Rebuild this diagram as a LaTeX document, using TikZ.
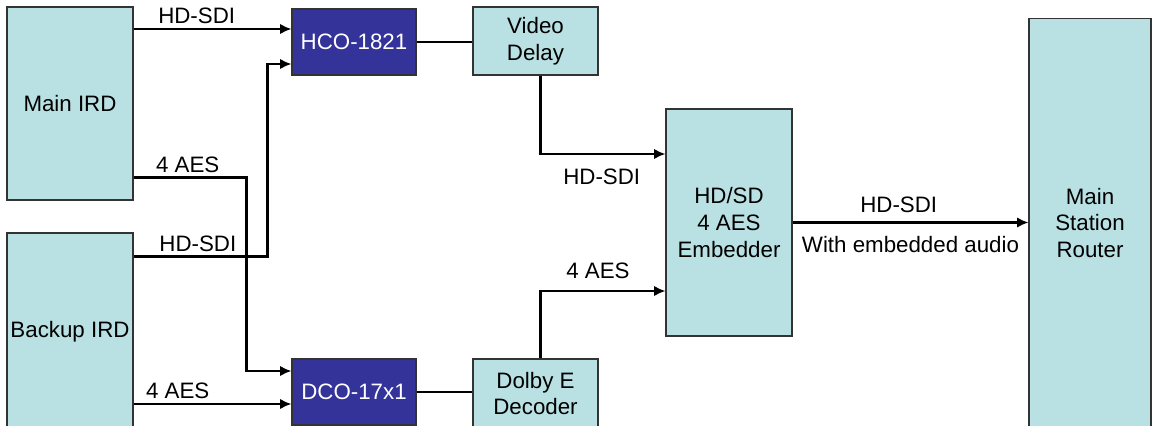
\documentclass[tikz,border=0pt]{standalone}
\usepackage{fontspec}
\setmainfont{Liberation Sans}
\usepackage{tikz}
\usetikzlibrary{calc,arrows.meta}
\usepackage{xcolor}
\definecolor{boxcyan}{RGB}{185,224,227}
\definecolor{boxblue}{RGB}{51,51,153}
\tikzset{
  unit/.style = {draw=black!80, line width=0.6pt, fill=boxcyan, align=center,
    inner sep=0pt, font=\fontsize{12.7}{15.3}\selectfont},
  conv/.style = {unit, fill=boxblue, text=white},
  sig/.style = {line width=1.6pt},
  arr/.style = {sig, -{Latex[length=6.5pt,width=6pt]}},
  lbl/.style = {inner sep=2pt, font=\fontsize{12.7}{15.3}\selectfont}
}

\begin{document}
\begin{tikzpicture}[x=0.02cm,y=-0.02cm]
  \useasboundingbox (0,0) rectangle (1153,426);

  % sources
  \node[unit, minimum width=2.52cm, minimum height=3.86cm] (main) at (70,103.5) {Main IRD};
  \node[unit, minimum width=2.52cm, minimum height=3.96cm] (backup) at (70,332) {Backup IRD};

  % converters
  \node[conv, minimum width=2.48cm, minimum height=1.32cm] (hco) at (354,42) {HCO-1821};
  \node[conv, minimum width=2.48cm, minimum height=1.32cm] (dco) at (354,392) {DCO-17x1};

  \node[unit, minimum width=2.5cm, minimum height=1.36cm] (delay) at (535.5,41) {Video\\Delay};
  \node[unit, minimum width=2.5cm, minimum height=1.38cm] (dolby) at (535.5,393.5) {Dolby E\\Decoder};

  \node[unit, minimum width=2.52cm, minimum height=4.54cm] (emb) at (729,222.5) {HD/SD\\4 AES\\Embedder};
  \node[unit, minimum width=2.44cm, minimum height=8.2cm] (router) at (1090,223) {Main\\Station\\Router};

  % inputs
  \coordinate (hcoA) at ($(hco.west)+(0,-13)$);
  \coordinate (hcoB) at ($(hco.west)+(0,22)$);
  \coordinate (dcoA) at ($(dco.west)+(0,-21)$);
  \coordinate (dcoB) at ($(dco.west)+(0,12)$);
  \coordinate (embA) at ($(emb.west)+(0,-68.5)$);
  \coordinate (embB) at ($(emb.west)+(0,68.5)$);

  \draw[arr] (main.east |- hcoA) -- node[lbl, above, pos=0.4] {HD-SDI} (hcoA);
  \draw[arr] ($(backup.north east)+(0,24)$) -| node[lbl, above, pos=0.24] {HD-SDI} ($(hcoB)+(-24,0)$) -- (hcoB);
  \draw[arr] ($(main.south east)+(0,-23)$) -| node[lbl, above, pos=0.24] {4 AES} ($(dcoA)+(-45,0)$) -- (dcoA);
  \draw[arr] (backup.east |- dcoB) -- node[lbl, above, pos=0.28] {4 AES} (dcoB);

  \draw[sig] (hco.east) -- (delay.west |- hco.east);
  \draw[sig] (dco.east) -- (dolby.west |- dco.east);

  \draw[arr] ($(delay.south)+(5,0)$) |- node[lbl, below, pos=0.745, yshift=-5.5pt] {HD-SDI} (embA);
  \draw[arr] ($(dolby.north)+(5,0)$) |- node[lbl, above, pos=0.73, yshift=4pt] {4 AES} (embB);

  \draw[arr] (emb.east) -- node[lbl, above, pos=0.45, yshift=3pt] {HD-SDI}
    node[lbl, below, pos=0.5, yshift=-5pt] {With embedded audio} (emb.east -| router.west);
\end{tikzpicture}
\end{document}
